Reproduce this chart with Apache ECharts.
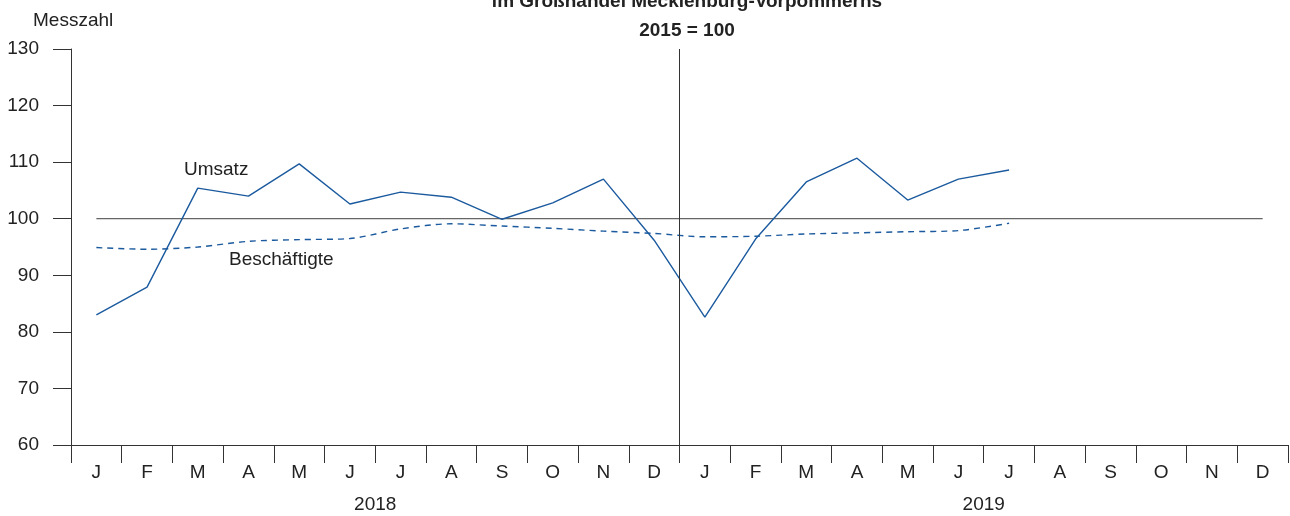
<!DOCTYPE html>
<html>
<head>
<meta charset="utf-8">
<script src="https://cdn.jsdelivr.net/npm/echarts@6/dist/echarts.min.js"></script>
<style>
  html, body { margin: 0; padding: 0; background: #fff; }
  #chart { width: 1290px; height: 516px; }
</style>
</head>
<body>
<div id="chart"></div>
<script>
// Monate Jan 2018 - Dez 2019
var months = ['J','F','M','A','M','J','J','A','S','O','N','D','J','F','M','A','M','J','J','A','S','O','N','D'];
var years = ['2018', '2019'];
// Messzahl 2015 = 100
var umsatz = [83.0, 87.9, 105.4, 104.0, 109.7, 102.6, 104.7, 103.8, 99.9, 102.8, 107.0, 96.2,
              82.6, 96.4, 106.5, 110.7, 103.3, 107.0, 108.6];
var beschaeftigte = [94.9, 94.6, 95.0, 96.0, 96.3, 96.5, 98.2, 99.1, 98.7, 98.3, 97.8, 97.4,
                     96.8, 96.9, 97.3, 97.5, 97.7, 97.9, 99.2];
var basis = [100,100,100,100,100,100,100,100,100,100,100,100,100,100,100,100,100,100,100,100,100,100,100,100];
var yTicks = [60, 70, 80, 90, 100, 110, 120, 130];
var jahreswechsel = 12; // Grenze zwischen Dez 2018 und Jan 2019

var blue = '#1b5a9e';
var axisCol = '#333';
var font = 'Liberation Sans, Arial, sans-serif';

var chart = echarts.init(document.getElementById('chart'));
var option = {
    animation: false,
    textStyle: { fontFamily: font },
    title: {
        text: 'im Großhandel Mecklenburg-Vorpommerns',
        subtext: '2015 = 100',
        left: 682,
        textAlign: 'center',
        top: -13,
        itemGap: 10,
        textStyle: { fontSize: 19, fontWeight: 'bold', color: '#222', fontFamily: font },
        subtextStyle: { fontSize: 19, fontWeight: 'bold', color: '#222', fontFamily: font }
    },
    grid: { left: 71, right: 2, top: 49, bottom: 71, containLabel: false },
    xAxis: [{
        type: 'category',
        data: months,
        boundaryGap: true,
        axisLine: { lineStyle: { color: axisCol, width: 1 } },
        axisTick: { show: true, interval: 0, length: 18, lineStyle: { color: axisCol } },
        axisLabel: { interval: 0, color: '#222', fontSize: 19, margin: 18, fontFamily: font },
        splitLine: { show: false }
    }, {
        type: 'category',
        data: years,
        position: 'bottom',
        offset: 40,
        axisLine: { show: false },
        axisTick: { show: false },
        axisLabel: { color: '#222', fontSize: 19, margin: 10, fontFamily: font },
        splitLine: { show: false }
    }, {
        type: 'value',
        min: 0,
        max: months.length,
        show: false
    }],
    yAxis: {
        type: 'value',
        min: yTicks[0],
        max: yTicks[yTicks.length - 1],
        interval: 10,
        name: 'Messzahl',
        nameLocation: 'end',
        nameGap: 19,
        nameTextStyle: { color: '#222', fontSize: 19, align: 'left', padding: [0, 0, 0, -38], fontFamily: font },
        axisLine: { show: true, lineStyle: { color: axisCol } },
        axisTick: { show: true, length: 18, lineStyle: { color: axisCol } },
        axisLabel: { color: '#222', fontSize: 19, margin: 32, fontFamily: font },
        splitLine: { show: false }
    },
    series: [{
        name: 'Basis',
        type: 'line',
        data: basis,
        symbol: 'none',
        silent: true,
        lineStyle: { color: '#666', width: 1.3 }
    }, {
        name: 'Jahreswechsel',
        type: 'line',
        xAxisIndex: 2,
        data: [],
        markLine: {
            silent: true,
            symbol: 'none',
            label: { show: false },
            lineStyle: { color: axisCol, width: 1, type: 'solid' },
            data: [{ xAxis: jahreswechsel }]
        }
    }, {
        name: 'Beschäftigte',
        type: 'line',
        data: beschaeftigte,
        symbol: 'none',
        smooth: 0.3,
        lineStyle: { color: blue, width: 1.4, type: [6, 5] }
    }, {
        name: 'Umsatz',
        type: 'line',
        data: umsatz,
        symbol: 'none',
        lineStyle: { color: blue, width: 1.4 }
    }],
    graphic: [{
        type: 'text', left: 184, top: 160,
        style: { text: 'Umsatz', fontSize: 19, fill: '#222', fontFamily: font }
    }, {
        type: 'text', left: 229, top: 250,
        style: { text: 'Beschäftigte', fontSize: 19, fill: '#222', fontFamily: font }
    }]
};
chart.setOption(option);
</script>
</body>
</html>
